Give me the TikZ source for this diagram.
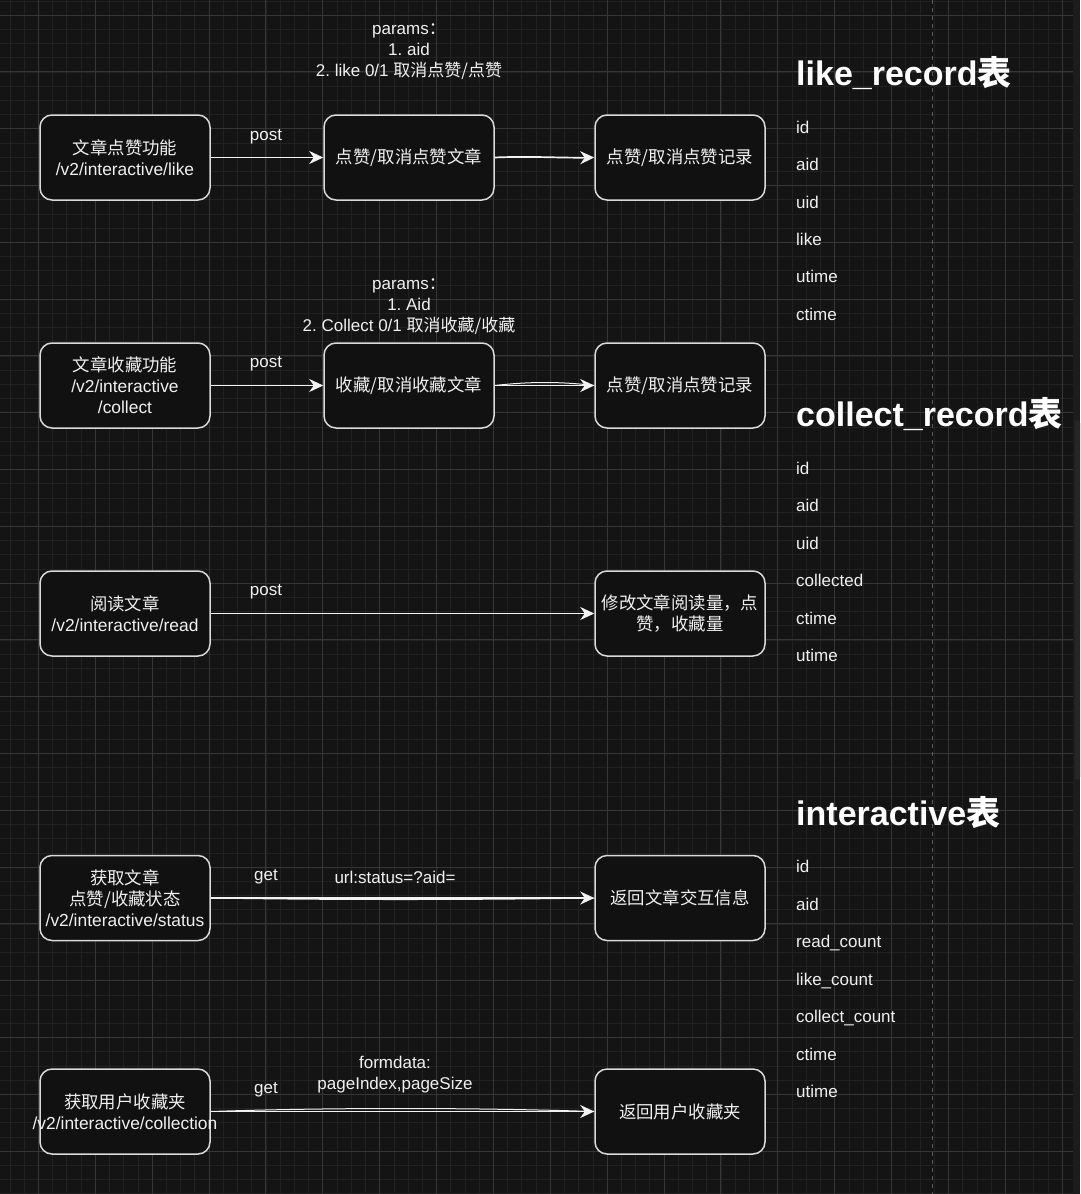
\documentclass[tikz,border=0pt]{standalone}
\usepackage{fontspec}
\setmainfont{Liberation Sans}
\newfontfamily\cjk{Noto Sans CJK SC}
\usetikzlibrary{arrows.meta}
\frenchspacing
\newcommand\zh[1]{{\cjk #1}}
\newcommand\myfs{\fontsize{17}{21}\selectfont}
\newcommand\mybfs{\fontsize{17.4}{21}\selectfont}
\newcommand\myft{\fontsize{34}{40}\selectfont\bfseries}
\definecolor{bg}{HTML}{141414}
\definecolor{gminor}{HTML}{212121}
\definecolor{gmajor}{HTML}{363636}
\definecolor{boxfill}{HTML}{111111}
\definecolor{boxline}{HTML}{DADADA}
\definecolor{txt}{HTML}{F0F0F0}
\definecolor{conncol}{HTML}{F2F2F2}
\definecolor{dashcol}{HTML}{5A5A5A}
\definecolor{sbar}{HTML}{1C1C1C}
\definecolor{sthumb}{HTML}{262626}
\tikzset{
  box/.style={draw=boxline, fill=boxfill, rounded corners=12pt, line width=1.5pt,
    minimum width=170pt, minimum height=85pt, inner sep=0pt, align=center,
    text=txt, font=\mybfs},
  lbl/.style={text=txt, font=\myfs, align=center, inner sep=0pt},
  fld/.style={text=txt, font=\myfs, anchor=base west, inner sep=0pt},
  ttl/.style={text=white, font=\myft, anchor=base west, inner sep=0pt},
  conn/.style={draw=conncol, line width=1.7pt,
    -{Stealth[length=14pt,width=13pt,inset=4.5pt]}},
  ghost/.style={draw=conncol, line width=1pt},
  gridminor/.style={draw=gminor, line width=0.6pt},
  gridmajor/.style={draw=gmajor, line width=0.8pt},
}
\begin{document}
\begin{tikzpicture}[x=1pt,y=-1pt]
% background
\fill[bg] (0,0) rectangle (1080,1194);
\useasboundingbox (0,0) rectangle (1080,1194);
% grid
\foreach \i in {0,...,75} {\draw[gridminor] ({9.86+14.22*\i},0) -- ({9.86+14.22*\i},1194);}
\foreach \j in {0,...,84} {\draw[gridminor] (0,{0.8+14.2*\j}) -- (1080,{0.8+14.2*\j});}
\foreach \i in {0,...,18} {\draw[gridmajor] ({38.3+56.88*\i},0) -- ({38.3+56.88*\i},1194);}
\foreach \j in {0,...,20} {\draw[gridmajor] (0,{15+56.8*\j}) -- (1080,{15+56.8*\j});}
% dashed guide
\draw[dashcol, line width=0.9pt, dash pattern=on 4pt off 4pt] (932,0) -- (932,1194);
% scrollbar strip
\fill[sbar] (1073,0) rectangle (1080,1194);
\fill[sthumb, rounded corners=3pt] (1074.5,420) rectangle (1080,780);

% ---------- row 1 ----------
\node[box] (a1) at (125,157.5) {\zh{文章点赞功能}\\/v2/interactive/like};
\node[box] (b1) at (409,157.5) {\zh{点赞/取消点赞文章}};
\node[box] (c1) at (680,157.5) {\zh{点赞/取消点赞记录}};
\node[lbl] (p1) at (409,51.5) {params\zh{：}\\1. aid\\2. like 0/1 \zh{取消点赞/点赞}};
\node[lbl] (l1) at (266,137) {post};
\draw[conn] (a1.east) -- (b1.west);
\draw[conn] (b1.east) .. controls (530,156) and (560,158) .. (c1.west);

% ---------- row 2 ----------
\node[box] (a2) at (125,385.5) {\zh{文章收藏功能}\\/v2/interactive\\/collect};
\node[box] (b2) at (409,385.5) {\zh{收藏/取消收藏文章}};
\node[box] (c2) at (680,385.5) {\zh{点赞/取消点赞记录}};
\node[lbl] (p2) at (409,307) {params\zh{：}\\1. Aid\\2. Collect 0/1 \zh{取消收藏/收藏}};
\node[lbl] (l2) at (266,364) {post};
\draw[conn] (a2.east) -- (b2.west);
\draw[conn] (b2.east) -- (c2.west);
\draw[ghost] (b2.east) .. controls (530,381.5) and (560,381.5) .. (c2.west);

% ---------- row 3 ----------
\node[box] (a3) at (125,613.5) {\zh{阅读文章}\\/v2/interactive/read};
\node[box] (c3) at (680,613.5) {\zh{修改文章阅读量，点}\\\zh{赞，收藏量}};
\node[lbl] (l3) at (266,592) {post};
\draw[conn] (a3.east) -- (c3.west);

% ---------- row 4 ----------
\node[box] (a4) at (125,898) {\zh{获取文章}\\\zh{点赞/收藏状态}\\/v2/interactive/status};
\node[box] (c4) at (680,898) {\zh{返回文章交互信息}};
\node[lbl] (l4) at (266,877) {get};
\node[lbl] (u4) at (395,877) {url:status=?aid=};
\draw[conn] (a4.east) -- (c4.west);
\draw[ghost] (a4.east) .. controls (330,900) and (470,900) .. (c4.west);

% ---------- row 5 ----------
\node[box] (a5) at (125,1111.5) {\zh{获取用户收藏夹}\\\makebox[150pt][c]{/v2/interactive/collection}};
\node[box] (c5) at (680,1111.5) {\zh{返回用户收藏夹}};
\node[lbl] (l5) at (266,1090) {get};
\node[lbl] (u5) at (395,1074.5) {formdata:\\pageIndex,pageSize};
\draw[conn] (a5.east) -- (c5.west);
\draw[ghost] (a5.east) .. controls (330,1107.5) and (470,1107.5) .. (c5.west);

% ---------- tables ----------
\node[ttl] (t1) at (796,85) {like\_record\zh{表}};
\node[fld] (t1f1) at (796,133.5) {id};
\node[fld] (t1f2) at (796,170.9) {aid};
\node[fld] (t1f3) at (796,208.2) {uid};
\node[fld] (t1f4) at (796,245.6) {like};
\node[fld] (t1f5) at (796,282.9) {utime};
\node[fld] (t1f6) at (796,320.3) {ctime};

\node[ttl] (t2) at (796,426.7) {collect\_record\zh{表}};
\node[fld] (t2f1) at (796,474) {id};
\node[fld] (t2f2) at (796,511.5) {aid};
\node[fld] (t2f3) at (796,549) {uid};
\node[fld] (t2f4) at (796,586.5) {collected};
\node[fld] (t2f5) at (796,624) {ctime};
\node[fld] (t2f6) at (796,661.5) {utime};

\node[ttl] (t3) at (796,825) {interactive\zh{表}};
\node[fld] (t3f1) at (796,872.7) {id};
\node[fld] (t3f2) at (796,910.2) {aid};
\node[fld] (t3f3) at (796,947.7) {read\_count};
\node[fld] (t3f4) at (796,985.2) {like\_count};
\node[fld] (t3f5) at (796,1022.7) {collect\_count};
\node[fld] (t3f6) at (796,1060.2) {ctime};
\node[fld] (t3f7) at (796,1097.7) {utime};
\end{tikzpicture}
\end{document}
